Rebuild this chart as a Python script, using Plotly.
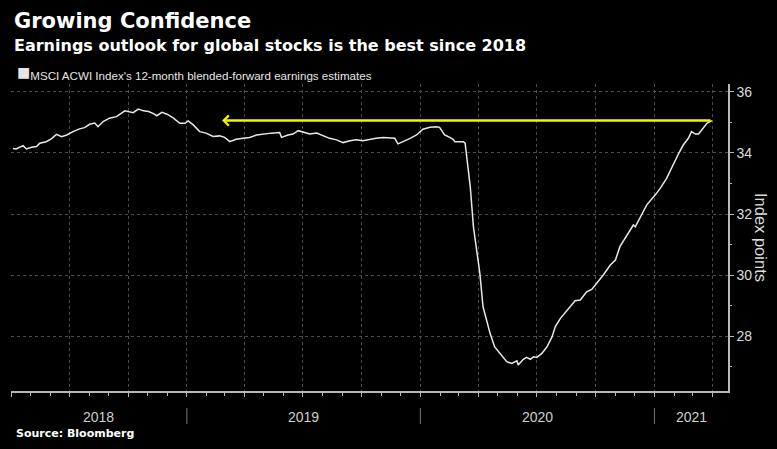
import plotly.graph_objects as go
import pandas as pd

# ---------------- data ----------------
dates = [
    "2018-04-04", "2018-04-09", "2018-04-20", "2018-04-25", "2018-05-03", "2018-05-11",
    "2018-05-16", "2018-05-26", "2018-06-03", "2018-06-11", "2018-06-19", "2018-06-27",
    "2018-07-07", "2018-07-17", "2018-07-25", "2018-08-02", "2018-08-10", "2018-08-15",
    "2018-08-23", "2018-09-02", "2018-09-13", "2018-09-26", "2018-10-09", "2018-10-17",
    "2018-10-25", "2018-11-02", "2018-11-09", "2018-11-15", "2018-11-23", "2018-12-01",
    "2018-12-11", "2018-12-21", "2018-12-29", "2019-01-03", "2019-01-11", "2019-01-21",
    "2019-01-31", "2019-02-11", "2019-02-21", "2019-03-01", "2019-03-09", "2019-03-19",
    "2019-03-30", "2019-04-09", "2019-04-20", "2019-04-30", "2019-05-13", "2019-05-26",
    "2019-05-29", "2019-06-08", "2019-06-16", "2019-06-24", "2019-07-02", "2019-07-12",
    "2019-07-23", "2019-08-02", "2019-08-12", "2019-08-23", "2019-09-02", "2019-09-13",
    "2019-09-23", "2019-10-03", "2019-10-14", "2019-10-24", "2019-11-04", "2019-11-14",
    "2019-11-22", "2019-11-27", "2019-12-05", "2019-12-16", "2019-12-26", "2020-01-05",
    "2020-01-16", "2020-01-26", "2020-01-31", "2020-02-08", "2020-02-16", "2020-02-21",
    "2020-02-24", "2020-03-03", "2020-03-08", "2020-03-11", "2020-03-13", "2020-03-19",
    "2020-03-24", "2020-03-29", "2020-04-03", "2020-04-08", "2020-04-13", "2020-04-19",
    "2020-04-26", "2020-05-04", "2020-05-15", "2020-05-23", "2020-05-31", "2020-06-02",
    "2020-06-10", "2020-06-15", "2020-06-21", "2020-06-26", "2020-07-01", "2020-07-09",
    "2020-07-17", "2020-07-25", "2020-07-30", "2020-08-07", "2020-08-14", "2020-08-22",
    "2020-08-30", "2020-09-07", "2020-09-17", "2020-09-25", "2020-10-03", "2020-10-13",
    "2020-10-24", "2020-11-01", "2020-11-08", "2020-11-19", "2020-11-29", "2020-12-02",
    "2020-12-10", "2020-12-20", "2021-01-02", "2021-01-10", "2021-01-20", "2021-01-31",
    "2021-02-08", "2021-02-15", "2021-02-23", "2021-02-28", "2021-03-06", "2021-03-11",
    "2021-03-16", "2021-03-24", "2021-04-01",
]
estimates = [
    34.15, 34.13, 34.24, 34.13, 34.19, 34.21,
    34.32, 34.37, 34.46, 34.61, 34.53, 34.59,
    34.70, 34.79, 34.83, 34.94, 34.98, 34.86,
    35.03, 35.14, 35.19, 35.38, 35.32, 35.44,
    35.38, 35.36, 35.30, 35.22, 35.33, 35.27,
    35.14, 34.97, 34.97, 35.05, 34.92, 34.70,
    34.65, 34.54, 34.56, 34.51, 34.37, 34.45,
    34.48, 34.51, 34.59, 34.62, 34.65, 34.67,
    34.51, 34.59, 34.62, 34.73, 34.67, 34.62,
    34.65, 34.56, 34.48, 34.43, 34.34, 34.40,
    34.43, 34.40, 34.45, 34.48, 34.51, 34.48,
    34.48, 34.30, 34.37, 34.48, 34.59, 34.78,
    34.84, 34.86, 34.84, 34.59, 34.51, 34.45,
    34.37, 34.37, 34.37, 34.32, 33.99, 32.90,
    31.58, 30.82, 30.06, 28.96, 28.52, 28.09,
    27.65, 27.43, 27.16, 27.10, 27.19, 27.05,
    27.24, 27.30, 27.24, 27.32, 27.30, 27.43,
    27.65, 27.98, 28.31, 28.58, 28.75, 28.96,
    29.16, 29.18, 29.45, 29.53, 29.73, 30.00,
    30.33, 30.49, 30.93, 31.31, 31.64, 31.58,
    31.91, 32.30, 32.62, 32.84, 33.17, 33.66,
    33.99, 34.26, 34.48, 34.70, 34.62, 34.62,
    34.75, 34.97, 35.06,
]
series_name = "MSCI ACWI Index's 12-month blended-forward earnings estimates"
year_labels = ["2018", "2019", "2020", "2021"]
y_tick_values = [28, 30, 32, 34, 36]
y_minor_values = [27, 29, 31, 33, 35]
arrow_head_date = "2019-02-25"   # arrow points back to this date at today's level

title_text = "Growing Confidence"
subtitle_text = "Earnings outlook for global stocks is the best since 2018"
source_text = "Source: Bloomberg"
y_title = "Index points"

x_range = ["2018-04-01", "2021-04-26"]
y_range = [26.2, 36.26]

# ---------------- figure ----------------
W, H = 777, 449
ML, MR, MT, MB = 11, 49, 84, 58
PW, PH = W - ML - MR, H - MT - MB


def px_x(px):
    return (px - ML) / PW


def px_y(py):
    return (H - MB - py) / PH


fig = go.Figure()
fig.add_trace(go.Scatter(
    x=dates, y=estimates, mode="lines",
    line=dict(color="#e8e8e8", width=1.5),
    showlegend=False, hoverinfo="skip",
))

grid = "#4d4d4d"
axis_col = "#b8b8b8"
fig.update_layout(
    width=W, height=H,
    margin=dict(l=ML, r=MR, t=MT, b=MB),
    paper_bgcolor="#000000", plot_bgcolor="#000000",
    font=dict(family="Liberation Sans, Arial, sans-serif", color="#dddddd"),
    xaxis=dict(
        type="date", range=x_range,
        tick0="2018-01-01", dtick="M3",
        showgrid=True, gridcolor=grid, griddash="dot", gridwidth=1,
        ticks="outside", ticklen=4, tickcolor=axis_col,
        showticklabels=False,
        showline=True, linecolor=axis_col, linewidth=1.5,
        zeroline=False,
        minor=dict(dtick="M1", tick0="2018-01-01", ticks="outside", ticklen=3,
                   tickcolor=axis_col, showgrid=False),
    ),
    yaxis=dict(
        side="right", range=y_range,
        tickmode="array", tickvals=y_tick_values,
        ticktext=[str(v) for v in y_tick_values],
        showgrid=True, gridcolor=grid, griddash="dot", gridwidth=1,
        ticks="outside", ticklen=4, tickcolor=axis_col,
        tickfont=dict(size=14, color="#dcdcdc"),
        showline=True, linecolor=axis_col, linewidth=1.5,
        zeroline=False,
        minor=dict(tickmode="array", tickvals=y_minor_values, ticks="outside",
                   ticklen=2, tickcolor=axis_col, showgrid=False),
    ),
)

annotations = []
# titles
annotations.append(dict(text=f"<b>{title_text}</b>", xref="paper", yref="paper",
                        x=px_x(12), y=px_y(21), xanchor="left", yanchor="middle",
                        showarrow=False,
                        font=dict(family="DejaVu Sans", size=21, color="#ffffff")))
annotations.append(dict(text=f"<b>{subtitle_text}</b>", xref="paper", yref="paper",
                        x=px_x(12), y=px_y(46), xanchor="left", yanchor="middle",
                        showarrow=False,
                        font=dict(family="DejaVu Sans", size=16, color="#ffffff")))
# legend
annotations.append(dict(text=f'<span style="font-size:22px">■</span>{series_name}',
                        xref="paper", yref="paper",
                        x=px_x(15), y=px_y(72), xanchor="left", yanchor="middle",
                        showarrow=False,
                        font=dict(family="Liberation Sans", size=11.6, color="#e6e6e6")))
# source
annotations.append(dict(text=f"<b>{source_text}</b>", xref="paper", yref="paper",
                        x=px_x(14), y=px_y(433), xanchor="left", yanchor="middle",
                        showarrow=False,
                        font=dict(family="DejaVu Sans", size=11, color="#ffffff")))
# y axis title
annotations.append(dict(text=y_title, xref="paper", yref="paper",
                        x=px_x(761), y=px_y(237), xanchor="center", yanchor="middle",
                        textangle=90, showarrow=False,
                        font=dict(family="Liberation Sans", size=16.5, color="#dcdcdc")))

# year labels centered in their visible span, separators at year starts
x0 = pd.Timestamp(x_range[0])
x1 = pd.Timestamp(x_range[1])
for yl in year_labels:
    s = max(pd.Timestamp(f"{yl}-01-01"), x0)
    e = min(pd.Timestamp(f"{int(yl) + 1}-01-01"), x1)
    mid = s + (e - s) / 2
    annotations.append(dict(text=yl, xref="x", yref="paper", x=mid, y=px_y(417),
                            xanchor="center", yanchor="middle", showarrow=False,
                            font=dict(family="Liberation Sans", size=14, color="#cfcfcf")))
    if pd.Timestamp(f"{yl}-01-01") > x0:
        fig.add_shape(type="line", xref="x", yref="paper",
                      x0=f"{yl}-01-01", x1=f"{yl}-01-01",
                      y0=px_y(408), y1=px_y(424),
                      line=dict(color="#777777", width=1))

# yellow arrow: from the latest value back to the earlier date at the same level
annotations.append(dict(text="", xref="x", yref="y", axref="x", ayref="y",
                        x=arrow_head_date, y=estimates[-1],
                        ax=dates[-1], ay=estimates[-1],
                        showarrow=True, arrowhead=4, arrowsize=0.8, arrowwidth=2.5,
                        arrowcolor="#f4f400", standoff=0, startstandoff=0))

fig.update_layout(annotations=annotations)
fig.write_html("out.html")
